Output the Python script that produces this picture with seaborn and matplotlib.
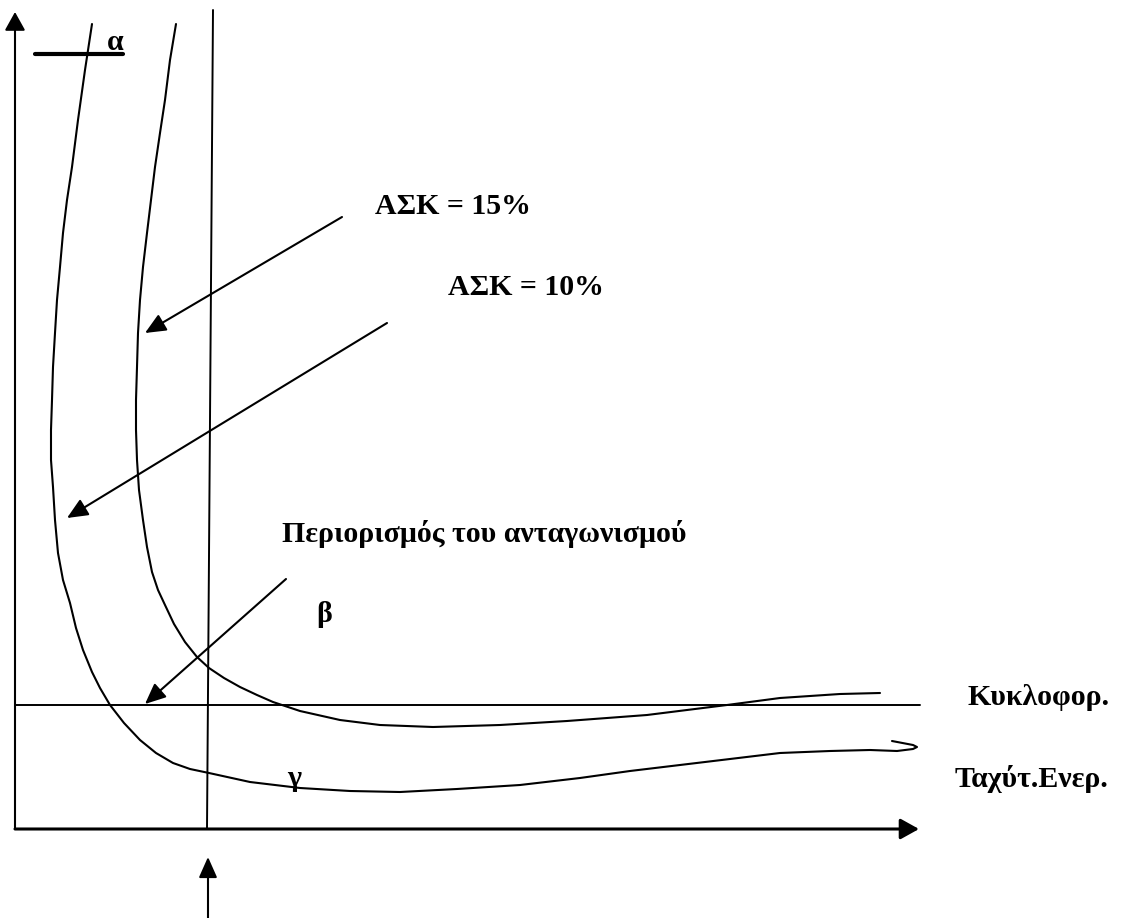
import matplotlib
matplotlib.use("Agg")
import matplotlib.pyplot as plt
import seaborn as sns

# --- DATA (image pixel coordinates, y grows downward) ---
# curve for ΑΣΚ = 15% (inner curve, β side)
inner_x = [176, 170, 165, 160, 155, 151, 147, 143, 140, 138, 137, 136, 136, 137, 139, 143,
           147, 152, 158, 165, 174, 185, 197, 209, 224, 240, 257, 273, 300, 340, 380, 433,
           500, 567, 647, 727, 780, 840, 880]
inner_y = [24, 60, 100, 133, 167, 200, 233, 267, 300, 333, 367, 400, 430, 460, 490, 520,
           547, 572, 590, 605, 624, 642, 657, 668, 678, 687, 695, 702, 711, 720, 725, 727,
           725, 721, 715, 705, 698, 694, 693]

# curve for ΑΣΚ = 10% (outer curve, γ side, ends with a small hook)
outer_x = [92, 85, 78, 72, 67, 63, 60, 57, 55, 53, 52, 51, 51, 53, 55, 58, 63, 70, 76, 83,
           92, 100, 110, 124, 140, 156, 173, 190, 209, 250, 300, 350, 400, 457, 520, 580,
           630, 680, 730, 780, 830, 870, 897, 913, 917, 913, 892]
outer_y = [24, 70, 120, 167, 200, 233, 267, 300, 333, 367, 400, 430, 460, 487, 520, 553,
           580, 603, 628, 650, 672, 688, 705, 723, 740, 753, 763, 769, 773, 782, 788, 791,
           792, 789, 785, 778, 771, 765, 759, 753, 751, 750, 751, 749, 747, 745, 741]

# straight guide lines: (x0, y0, x1, y1)
traffic_line = (15, 705, 920, 705)
limit_line = (207, 829, 213, 10)
alpha_bar = (35, 54, 123, 54)

# axes with arrow heads: (tail, head)
y_axis = ((15, 829), (15, 12))
x_axis = ((15, 829), (919, 829))

# pointer arrows: (tail, head)
pointers = [((342, 217), (145, 333)),
            ((387, 323), (67, 518)),
            ((286, 579), (145, 704)),
            ((208, 918), (208, 857))]

# labels: text, left x, baseline y
labels = ["α", "ΑΣΚ = 15%", "ΑΣΚ = 10%", "Περιορισμός του ανταγωνισμού",
          "β", "γ", "Κυκλοφορ.", "Ταχύτ.Ενερ."]
label_x = [107, 375, 448, 282, 316, 287, 967, 955]
label_y = [50, 214, 295, 542, 622, 786, 705, 787]

sns.set_theme(style="white")
plt.rcParams["font.family"] = ["Liberation Serif", "DejaVu Serif"]

fig = plt.figure(figsize=(11.29, 9.18), dpi=100)
ax = fig.add_axes([0, 0, 1, 1])
ax.set_xlim(0, 1129)
ax.set_ylim(918, 0)
ax.axis("off")

sns.lineplot(x=inner_x, y=inner_y, sort=False, estimator=None, color="black", lw=1.5, ax=ax)
sns.lineplot(x=outer_x, y=outer_y, sort=False, estimator=None, color="black", lw=1.5, ax=ax)

for (x0, y0, x1, y1), w in [(traffic_line, 1.4), (limit_line, 1.4), (alpha_bar, 3.0)]:
    sns.lineplot(x=[x0, x1], y=[y0, y1], sort=False, estimator=None, color="black", lw=w, ax=ax)

# axes
for (tail, head), w in [(y_axis, 1.5), (x_axis, 2.2)]:
    ax.annotate("", xy=head, xytext=tail,
                arrowprops=dict(arrowstyle="-|>,head_length=0.45,head_width=0.25",
                                mutation_scale=25, color="black", lw=w,
                                shrinkA=0, shrinkB=0))

for tail, head in pointers:
    ax.annotate("", xy=head, xytext=tail,
                arrowprops=dict(arrowstyle="-|>,head_length=0.45,head_width=0.2",
                                mutation_scale=28, color="black", lw=1.5,
                                shrinkA=0, shrinkB=0))

for t, x, y in zip(labels, label_x, label_y):
    ax.text(x, y, t, fontsize=21.5, fontweight="bold", ha="left", va="baseline", color="black")

fig.savefig("out.png", dpi=100, facecolor="white")
